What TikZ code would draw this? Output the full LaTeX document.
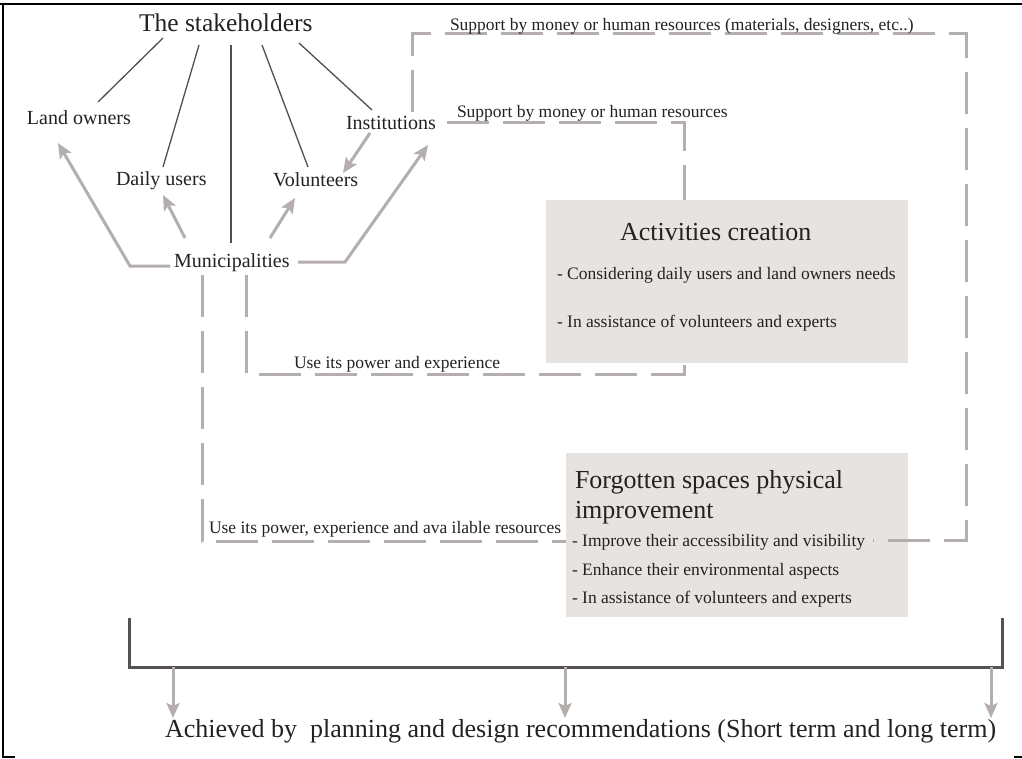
\documentclass[tikz,border=0pt]{standalone}
\usepackage{fontspec}
\setmainfont{Liberation Serif}
\usetikzlibrary{arrows.meta,calc}
\definecolor{lg}{HTML}{B4AFAD}
\definecolor{dg}{HTML}{505050}
\definecolor{brk}{HTML}{575252}
\definecolor{boxc}{HTML}{E7E3E1}
\definecolor{txtc}{HTML}{222222}
\begin{document}
\begin{tikzpicture}[x=1pt,y=-1pt,
  every node/.style={inner sep=0pt, outer sep=0pt, text=txtc, anchor=base west},
  title/.style={font=\fontsize{25.5}{30}\selectfont},
  actor/.style={font=\fontsize{20}{24}\selectfont},
  lbl/.style={font=\fontsize{17.5}{21}\selectfont},
  boxtitle/.style={font=\fontsize{26}{30}\selectfont},
  boxshape/.style={fill=boxc, anchor=north west},
  thinline/.style={draw=dg, line width=1.3pt},
  garrow/.style={draw=lg, line width=3pt, line join=miter,
    -{Stealth[length=15pt,width=13pt,inset=3pt]}},
  gdash/.style={draw=lg, line width=3pt, dash pattern=on 42pt off 14pt},
  bracketline/.style={draw=brk, line width=3pt, line join=miter},
  frameline/.style={draw=black, line width=1.3pt}
]
\useasboundingbox (0,0) rectangle (1022,758);
\fill[white] (0,0) rectangle (1022,758);

% frame
\draw[frameline] (0,4) -- (1022,4);
\draw[frameline] (3,4) -- (3,757) -- (15,757);
\draw[frameline] (1014,757) -- (1022,757);

% boxes
\node[boxshape, minimum width=362pt, minimum height=163pt] (act) at (546,200) {};
\node[boxshape, minimum width=342pt, minimum height=164pt] (fg) at (566,453) {};

% actors
\node[title] (sh) at (139,31) {The stakeholders};
\node[actor] (lo) at (27,124) {Land owners};
\node[actor] (du) at (116,185) {Daily users};
\node[actor] (vo) at (273,186) {Volunteers};
\node[actor] (in) at (346,129) {Institutions};
\node[actor] (mu) at (174,267) {Municipalities};

% stakeholder links
\draw[thinline] ($(sh.base west)+(24,7)$) -- ($(lo.base west)+(71,-22)$);
\draw[thinline] ($(sh.base west)+(60,14)$) -- ($(du.base west)+(47,-18)$);
\draw[thinline] ($(sh.base west)+(92,14)$) -- ($(mu.base west)+(57,-24)$);
\draw[thinline] ($(sh.base west)+(123,14)$) -- ($(vo.base west)+(35,-19)$);
\draw[thinline] ($(sh.base west)+(160,12)$) -- ($(in.base west)+(26,-19)$);

% municipality arrows
\draw[garrow] ($(mu.base west)+(-4,-1)$) -- ($(mu.base west)+(-44,-1)$) -- ($(lo.base west)+(31,19)$);
\draw[garrow] ($(mu.base west)+(11,-29)$) -- ($(du.base west)+(47,10)$);
\draw[garrow] ($(mu.base west)+(96,-29)$) -- ($(vo.base west)+(22,12)$);
\draw[garrow] ($(mu.base west)+(124,-5)$) -- ($(mu.base west)+(171,-5)$) -- ($(in.base west)+(82,16)$);
\draw[garrow] ($(in.base west)+(24,4)$) -- ($(vo.base west)+(70,-13)$);

% dashed connectors
\coordinate (tr) at (966,33);
\draw[gdash] ($(in.base west)+(66,-17)$) |- (tr) |- ($(fg.north west)+(307,87)$);
\draw[gdash] ($(in.base west)+(101,-7)$) -| ($(act.north west)+(138,0)$);
\draw[gdash] ($(mu.base west)+(72,8)$) |- ($(act.south west)+(138,11)$) -- ($(act.south west)+(138,0)$);
\draw[gdash] ($(mu.base west)+(28,8)$) |- ($(fg.north west)+(0,88)$);

% connector labels
\node[lbl] (s1) at (450,30) {Support by money or human resources (materials, designers, etc..)};
\node[lbl] (s2) at (457,117) {Support by money or human resources};
\node[lbl] (u1) at (294,368) {Use its power and experience};
\node[lbl] (u2) at (209,533) {Use its power, experience and ava ilable resources};

% box texts
\node[boxtitle] (at) at (620,240) {Activities creation};
\node[lbl] (a1) at (557,279) {- Considering daily users and land owners needs};
\node[lbl] (a2) at (557,327) {- In assistance of volunteers and experts};
\node[boxtitle] (ft1) at (575,488) {Forgotten spaces physical};
\node[boxtitle] (ft2) at (575,518) {improvement};
\node[lbl] (f1) at (572,546) {- Improve their accessibility and visibility};
\node[lbl] (f2) at (572,575) {- Enhance their environmental aspects};
\node[lbl] (f3) at (572,603) {- In assistance of volunteers and experts};

% bracket and result
\node[font=\fontsize{26}{30}\selectfont] (ach) at (165,737) {Achieved by\ \ planning and design recommendations (Short term and long term)};
\coordinate (bl) at (129,618);
\coordinate (br) at (1002,618);
\draw[bracketline] (bl) -- (bl |- 0,667) -- (br |- 0,667) -- (br);
\draw[garrow] ($(ach.base west)+(8,-70)$) -- ($(ach.base west)+(8,-19)$);
\draw[garrow] ($(ach.base west)+(400,-70)$) -- ($(ach.base west)+(400,-19)$);
\draw[garrow] ($(ach.base west)+(826,-70)$) -- ($(ach.base west)+(826,-19)$);
\end{tikzpicture}
\end{document}
